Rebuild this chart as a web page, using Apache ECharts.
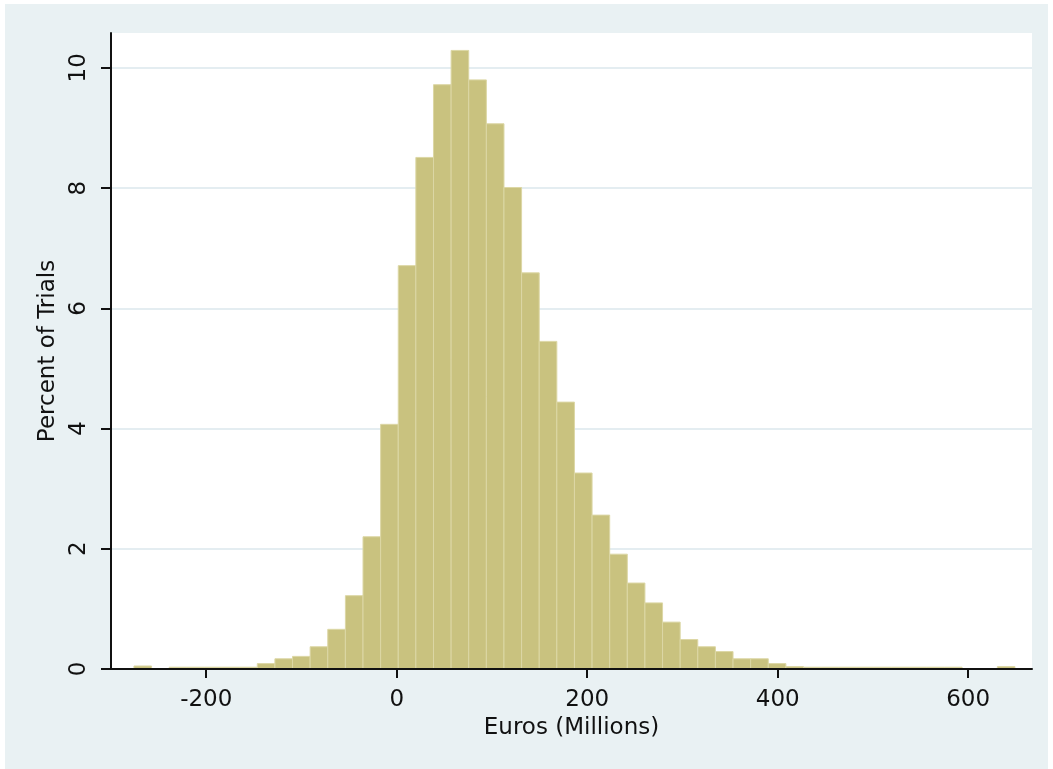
<!DOCTYPE html>
<html>
<head>
<meta charset="utf-8">
<script src="https://cdn.jsdelivr.net/npm/echarts@6/dist/echarts.min.js"></script>
<style>
  html, body { margin: 0; padding: 0; background: #ffffff; }
  #chart { position: absolute; left: 5px; top: 4px; width: 1043px; height: 765px; }
</style>
</head>
<body>
<div id="chart"></div>
<script>
// Histogram bins: 50 bins starting at binStart, each binWidth wide (Euros, millions)
const binStart = -275.9;
const binWidth = 18.5;
// Percent of trials in each bin
const percents = [
  0.05, 0, 0.03, 0.03, 0.03, 0.03, 0.03, 0.09, 0.17, 0.21,
  0.37, 0.66, 1.22, 2.20, 4.07, 6.71, 8.51, 9.72, 10.29, 9.80,
  9.07, 8.01, 6.59, 5.45, 4.44, 3.26, 2.56, 1.91, 1.43, 1.10,
  0.78, 0.49, 0.37, 0.29, 0.17, 0.17, 0.09, 0.04, 0.03, 0.03,
  0.03, 0.03, 0.03, 0.03, 0.03, 0.03, 0.03, 0, 0, 0.04
];
const xTicks = [-200, 0, 200, 400, 600];
const yTicks = [0, 2, 4, 6, 8, 10];
const xTitle = 'Euros (Millions)';
const yTitle = 'Percent of Trials';

const barData = [];
percents.forEach(function (p, k) {
  if (p > 0) barData.push([binStart + k * binWidth, binStart + (k + 1) * binWidth, p]);
});

const FONT = 'DejaVu Sans, sans-serif';
const FS = 23;
const chart = echarts.init(document.getElementById('chart'));
chart.setOption({
  backgroundColor: '#E9F1F3',
  animation: false,
  grid: {
    left: 106, right: 16, top: 29, bottom: 100,
    show: true, backgroundColor: '#ffffff', borderWidth: 0
  },
  xAxis: {
    type: 'value', min: -300, max: 667, z: 10,
    name: xTitle, nameLocation: 'middle', nameGap: 39,
    nameTextStyle: { fontFamily: FONT, fontSize: FS, color: '#111' },
    axisLine: { show: true, onZero: false, lineStyle: { color: '#111', width: 2 } },
    axisTick: { show: true, length: 9, customValues: xTicks, lineStyle: { color: '#111', width: 2 } },
    axisLabel: { customValues: xTicks, margin: 20, fontFamily: FONT, fontSize: FS, color: '#111' },
    splitLine: { show: false }
  },
  yAxis: {
    type: 'value', min: 0, max: 10.58,
    name: yTitle, nameLocation: 'middle', nameGap: 51, nameRotate: 90,
    nameTextStyle: { fontFamily: FONT, fontSize: FS, color: '#111' },
    axisLine: { show: true, onZero: false, lineStyle: { color: '#111', width: 2 } },
    axisTick: { show: true, length: 10, customValues: yTicks, lineStyle: { color: '#111', width: 2 } },
    axisLabel: { customValues: yTicks, rotate: 90, margin: 20, fontFamily: FONT, fontSize: FS, color: '#111' },
    splitLine: { show: true, lineStyle: { color: '#E4EDF1', width: 2 } }
  },
  series: [{
    type: 'custom',
    data: barData,
    encode: { x: [0, 1], y: 2 },
    renderItem: function (params, api) {
      const p0 = api.coord([api.value(0), api.value(2)]);
      const p1 = api.coord([api.value(1), 0]);
      return {
        type: 'rect',
        shape: { x: p0[0], y: p0[1], width: p1[0] - p0[0], height: p1[1] - p0[1] },
        style: { fill: '#C9C27F', stroke: '#DCD7A5', lineWidth: 1 }
      };
    }
  }]
});
</script>
</body>
</html>
